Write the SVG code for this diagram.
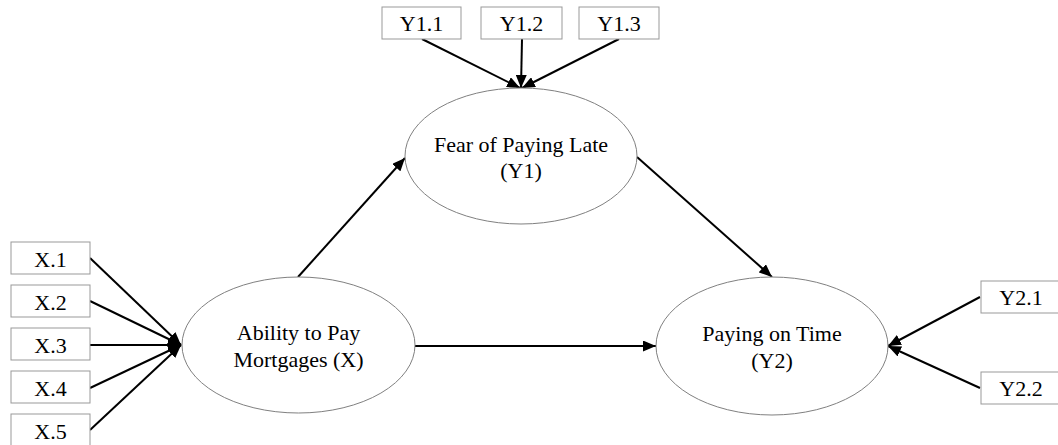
<svg xmlns="http://www.w3.org/2000/svg" width="1058" height="445" viewBox="0 0 1058 445">
<style>
.box{fill:#fff;stroke:#999;stroke-width:1}
.ell{fill:#fff;stroke:#808080;stroke-width:1}
.t{font-family:"Liberation Serif","Times New Roman",serif;font-size:22px;fill:#000;text-anchor:middle}
.c{stroke:#000;stroke-width:2;fill:none;marker-end:url(#ah)}
</style>
<defs>
<marker id="ah" markerUnits="userSpaceOnUse" markerWidth="13" markerHeight="11" refX="13" refY="5.5" orient="auto">
<path d="M0,0 L13,5.5 L0,11 z" fill="#000"/>
</marker>
</defs>
<rect width="1058" height="445" fill="#fff"/>
<g id="connectors">
<line class="c" x1="90" y1="258" x2="181" y2="345"/>
<line class="c" x1="90" y1="301" x2="181" y2="345"/>
<line class="c" x1="90" y1="345" x2="181" y2="345"/>
<line class="c" x1="90" y1="388" x2="181" y2="345"/>
<line class="c" x1="90" y1="430" x2="181" y2="345"/>
<line class="c" x1="422" y1="39" x2="520" y2="88"/>
<line class="c" x1="522" y1="39" x2="521" y2="88"/>
<line class="c" x1="619" y1="39" x2="522" y2="88"/>
<line class="c" x1="298" y1="277" x2="405" y2="158"/>
<line class="c" x1="637" y1="157" x2="772" y2="277"/>
<line class="c" x1="415" y1="346" x2="656" y2="346"/>
<line class="c" x1="980" y1="297" x2="888" y2="346"/>
<line class="c" x1="980" y1="388" x2="888" y2="346"/>
</g>
<g id="X1"><rect class="box" x="11" y="242" width="79" height="32"/><text class="t" x="50.5" y="266.5">X.1</text></g>
<g id="X2"><rect class="box" x="11" y="285" width="79" height="32"/><text class="t" x="50.5" y="309.5">X.2</text></g>
<g id="X3"><rect class="box" x="11" y="328" width="79" height="32"/><text class="t" x="50.5" y="352.5">X.3</text></g>
<g id="X4"><rect class="box" x="11" y="371" width="79" height="32"/><text class="t" x="50.5" y="395.5">X.4</text></g>
<g id="X5"><rect class="box" x="11" y="414" width="79" height="32"/><text class="t" x="50.5" y="438.5">X.5</text></g>
<g id="Y1_1"><rect class="box" x="382" y="7" width="79" height="32"/><text class="t" x="421.5" y="30.5">Y1.1</text></g>
<g id="Y1_2"><rect class="box" x="481" y="7" width="81" height="32"/><text class="t" x="521.5" y="30.5">Y1.2</text></g>
<g id="Y1_3"><rect class="box" x="579" y="7" width="80" height="32"/><text class="t" x="619" y="30.5">Y1.3</text></g>
<g id="Y2_1"><rect class="box" x="981" y="281" width="80" height="32"/><text class="t" x="1021" y="304.5">Y2.1</text></g>
<g id="Y2_2"><rect class="box" x="981" y="372" width="80" height="32"/><text class="t" x="1021" y="395.5">Y2.2</text></g>
<g id="X"><ellipse class="ell" cx="298.5" cy="345" rx="116.5" ry="68"/><text class="t" x="298.5" y="340">Ability to Pay</text><text class="t" x="298.5" y="366.5">Mortgages (X)</text></g>
<g id="Y1"><ellipse class="ell" cx="521" cy="156" rx="116" ry="68"/><text class="t" x="521" y="152">Fear of Paying Late</text><text class="t" x="521" y="177.5">(Y1)</text></g>
<g id="Y2"><ellipse class="ell" cx="772" cy="346" rx="116" ry="69"/><text class="t" x="772" y="340.5">Paying on Time</text><text class="t" x="772" y="367.5">(Y2)</text></g>
</svg>
